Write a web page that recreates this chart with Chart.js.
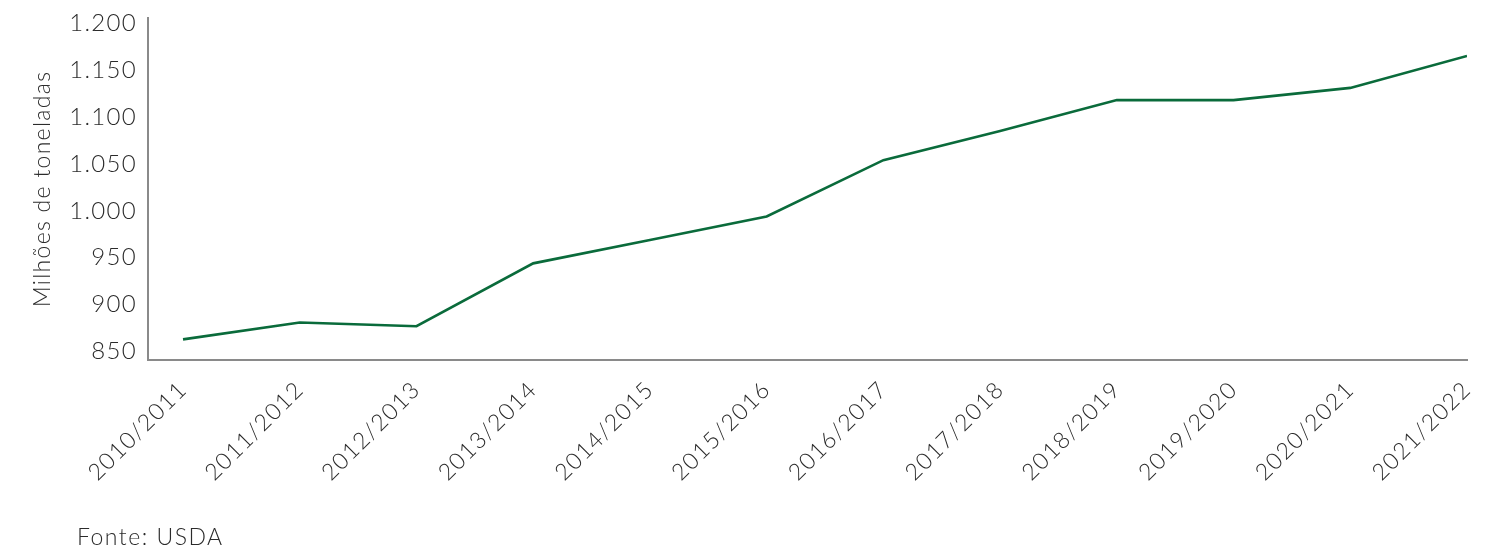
<!DOCTYPE html>
<html><head><meta charset="utf-8">
<script src="https://cdn.jsdelivr.net/npm/chart.js@4.4.1/dist/chart.umd.min.js"></script>
<style>
html,body{margin:0;padding:0;background:#fff;}
#wrap{position:relative;width:1499px;height:552px;}
#src{position:absolute;left:77px;top:522px;font-family:Lato, sans-serif;font-weight:300;font-size:23px;letter-spacing:1.5px;color:#2b2b2b;line-height:28px;white-space:nowrap;}
</style></head><body>
<div id="wrap"><canvas id="c" width="1499" height="552"></canvas><div id="src"></div></div>
<script>
const categories = ['2010/2011','2011/2012','2012/2013','2013/2014','2014/2015','2015/2016','2016/2017','2017/2018','2018/2019','2019/2020','2020/2021','2021/2022'];
const values = [863, 881, 877, 944, 969, 994, 1054, 1085, 1118, 1118, 1131, 1165];
const yTickValues = [850, 900, 950, 1000, 1050, 1100, 1150, 1200];
const yTickLabels = ['850', '900', '950', '1.000', '1.050', '1.100', '1.150', '1.200'];
const yAxisTitle = 'Milhões de toneladas';
const sourceNote = 'Fonte: USDA';

document.getElementById('src').textContent = sourceNote;

const FONT = 'Lato';
const TEXT = '#2b2b2b';
const AXIS = '#8a8a8a';

const points = values.map((v, i) => ({x: i, y: v}));

const spacingPlugin = {
  id: 'spacing',
  beforeUpdate(chart) { chart.ctx.letterSpacing = '1.3px'; },
  beforeDraw(chart) { chart.ctx.letterSpacing = '1.3px'; }
};

new Chart(document.getElementById('c'), {
  type: 'line',
  plugins: [spacingPlugin],
  data: {
    datasets: [{
      data: points,
      borderColor: '#0a6b3b',
      borderWidth: 2.6,
      pointRadius: 0,
      tension: 0,
      fill: false
    }]
  },
  options: {
    responsive: false,
    animation: false,
    devicePixelRatio: 1,
    layout: {padding: {top: 18, right: 32, bottom: 0, left: 0}},
    plugins: {legend: {display: false}, tooltip: {enabled: false}},
    scales: {
      x: {
        type: 'linear',
        min: -0.3,
        max: categories.length - 1,
        afterBuildTicks: (s) => { s.ticks = categories.map((c, i) => ({value: i})); },
        afterFit: (s) => { s.height = 192; s.paddingLeft = 0; s.paddingRight = 0; },
        grid: {display: true, color: 'rgba(0,0,0,0)', drawTicks: false},
        border: {display: true, color: AXIS, width: 2},
        ticks: {
          autoSkip: false,
          minRotation: 45,
          maxRotation: 45,
          padding: 16,
          color: TEXT,
          font: {family: FONT, size: 23, weight: '300'},
          callback: (v) => categories[v]
        }
      },
      y: {
        min: 841,
        max: 1205.5,
        afterBuildTicks: (s) => { s.ticks = yTickValues.map(v => ({value: v})); },
        afterFit: (s) => { s.width = 148; s.paddingTop = 0; s.paddingBottom = 0; },
        grid: {display: true, color: 'rgba(0,0,0,0)', drawTicks: false},
        border: {display: true, color: AXIS, width: 2},
        ticks: {
          padding: 11,
          color: TEXT,
          font: {family: FONT, size: 24, weight: '300'},
          callback: (v) => yTickLabels[yTickValues.indexOf(v)]
        },
        title: {
          display: true,
          text: yAxisTitle,
          color: TEXT,
          font: {family: FONT, size: 23, weight: '300'},
          padding: {top: 29, bottom: 0}
        }
      }
    }
  }
});
</script>
</body></html>
